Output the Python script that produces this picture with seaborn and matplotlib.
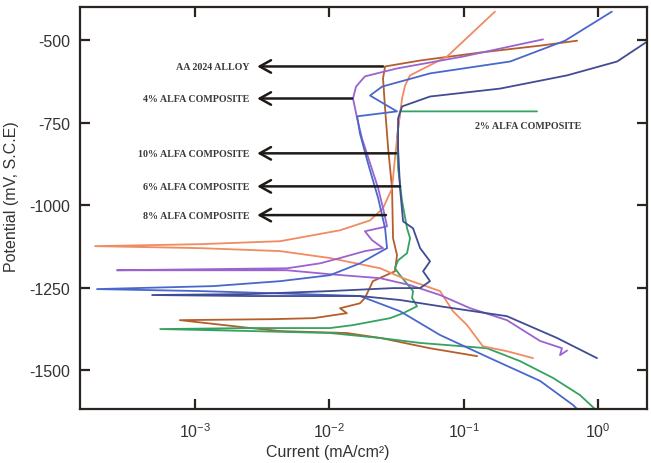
import numpy as np
import pandas as pd
import matplotlib
matplotlib.use("Agg")
import matplotlib.pyplot as plt
import seaborn as sns
from matplotlib.ticker import NullLocator, FixedLocator

# polarisation curves: current (mA/cm2), potential (mV vs SCE)
aa2024_i = [0.126, 0.056, 0.024, 0.0135, 0.0043, 0.0026, 0.00077, 0.0038, 0.0076, 0.0135, 0.012,
            0.0169, 0.0184, 0.0211, 0.0308, 0.0319, 0.0298, 0.0293, 0.0274, 0.026, 0.0251, 0.026,
            0.0474, 0.132, 0.371, 0.70]
aa2024_e = [-1457, -1433, -1402, -1387, -1381, -1372, -1348, -1345, -1342, -1327, -1312,
            -1297, -1281, -1230, -1200, -1151, -1100, -949, -828, -707, -616, -580,
            -562, -538, -517, -502]

alfa2_i = [0.968, 0.736, 0.463, 0.263, 0.149, 0.0474, 0.0239, 0.0101, 0.00257, 0.00055, 0.00257,
           0.0101, 0.0150, 0.0283, 0.0354, 0.0450, 0.0413, 0.0420, 0.0386, 0.0336, 0.0308, 0.0325,
           0.0379, 0.0399, 0.0379, 0.0348, 0.0325, 0.0319, 0.0336, 0.352]
alfa2_e = [-1620, -1575, -1523, -1472, -1433, -1417, -1402, -1387, -1381, -1375, -1372,
           -1372, -1363, -1342, -1327, -1306, -1281, -1260, -1242, -1212, -1191, -1167,
           -1145, -1100, -1070, -988, -888, -798, -716, -716]

alfa6_i = [0.329, 0.210, 0.139, 0.106, 0.0833, 0.0667, 0.0354, 0.0239, 0.0101, 0.0043, 0.00109,
           0.00018, 0.00109, 0.0043, 0.012, 0.0201, 0.0251, 0.0293, 0.0308, 0.0325, 0.0348,
           0.0366, 0.0399, 0.0752, 0.171]
alfa6_e = [-1463, -1442, -1427, -1363, -1321, -1260, -1221, -1191, -1160, -1139, -1130,
           -1124, -1118, -1109, -1076, -1046, -1009, -949, -858, -768, -677,
           -638, -607, -550, -414]

alfa4_i = [0.589, 0.522, 0.540, 0.371, 0.210, 0.112, 0.0667, 0.0399, 0.0239, 0.0101, 0.00484,
           0.00109, 0.000262, 0.00109, 0.00484, 0.00853, 0.012, 0.0184, 0.0251, 0.0208, 0.0184,
           0.0269, 0.0251, 0.0231, 0.0201, 0.0175, 0.0161, 0.0150, 0.0158, 0.0184, 0.0319,
           0.099, 0.390]
alfa4_e = [-1440, -1454, -1433, -1411, -1348, -1312, -1272, -1242, -1221, -1209, -1197,
           -1197, -1197, -1194, -1191, -1176, -1160, -1139, -1130, -1106, -1079,
           -1064, -1009, -949, -873, -798, -737, -677, -641, -610, -586,
           -550, -498]

alfa8_i = [0.711, 0.653, 0.371, 0.157, 0.0667, 0.0336, 0.0169, 0.00605, 0.00109, 0.000186, 0.00136,
           0.0043, 0.0101, 0.0169, 0.0269, 0.026, 0.0231, 0.0194, 0.0169, 0.0161, 0.0319,
           0.026, 0.0201, 0.0247, 0.0562, 0.222, 0.569, 1.27]
alfa8_e = [-1620, -1605, -1532, -1463, -1393, -1321, -1275, -1269, -1260, -1254, -1245,
           -1230, -1212, -1176, -1130, -1070, -979, -873, -783, -731, -716,
           -695, -668, -641, -601, -565, -502, -414]

alfa10_i = [0.984, 0.496, 0.210, 0.0667, 0.0336, 0.0169, 0.0101, 0.00257, 0.000479, 0.00257, 0.0101,
            0.0298, 0.0474, 0.0562, 0.0499, 0.0562, 0.0474, 0.042, 0.0354, 0.0336, 0.0325, 0.0325,
            0.0348, 0.0562, 0.187, 0.589, 1.39, 2.32, 3.44]
alfa10_e = [-1463, -1402, -1336, -1306, -1287, -1275, -1275, -1275, -1272, -1269, -1260,
            -1251, -1251, -1230, -1200, -1170, -1130, -1070, -1049, -949, -828, -737,
            -701, -671, -647, -607, -565, -505, -465]

samples = ["AA 2024 ALLOY", "2% ALFA COMPOSITE", "6% ALFA COMPOSITE",
           "4% ALFA COMPOSITE", "8% ALFA COMPOSITE", "10% ALFA COMPOSITE"]
colors = ["#b55e2c", "#35a262", "#f28a62", "#9a63cf", "#4a68cc", "#404c94"]

# labels with arrows: (text, potential, arrow tail current)
label_text = ["AA 2024 ALLOY", "4% ALFA COMPOSITE", "10% ALFA COMPOSITE",
              "6% ALFA COMPOSITE", "8% ALFA COMPOSITE"]
label_e = [-580, -677, -843, -943, -1030]
label_tail_i = [0.0251, 0.0148, 0.0314, 0.0336, 0.0264]

curves = [(aa2024_i, aa2024_e), (alfa2_i, alfa2_e), (alfa6_i, alfa6_e),
          (alfa4_i, alfa4_e), (alfa8_i, alfa8_e), (alfa10_i, alfa10_e)]
frames = []
for name, (i, e) in zip(samples, curves):
    frames.append(pd.DataFrame({"current": i, "potential": e, "sample": name}))
df = pd.concat(frames, ignore_index=True)

sns.set_theme(style="ticks")
plt.rcParams["font.family"] = ["Liberation Sans", "DejaVu Sans"]
plt.rcParams["axes.unicode_minus"] = False

fig = plt.figure(figsize=(6.51, 4.64), dpi=100)
ax = fig.add_axes([80 / 651, 1 - 410 / 464, 567 / 651, 402 / 464])
ax.set_xscale("log")

sns.lineplot(data=df, x="current", y="potential", hue="sample", palette=dict(zip(samples, colors)),
             sort=False, estimator=None, legend=False, lw=1.3, ax=ax)

ax.set_xlim(1.39e-4, 2.32)
ax.set_ylim(-1617, -400)
ax.xaxis.set_major_locator(FixedLocator([1e-3, 1e-2, 1e-1, 1e0]))
ax.xaxis.set_minor_locator(NullLocator())
ax.set_yticks([-500, -750, -1000, -1250, -1500])

for s in ax.spines.values():
    s.set_linewidth(1.6)
    s.set_color("#2a2320")
ax.tick_params(direction="in", length=7, width=1.6, color="#2a2320",
               top=True, right=True, labelsize=11.5, labelcolor="#333333")
ax.tick_params(axis="x", pad=9)
ax.tick_params(axis="y", pad=7)

ax.set_xlabel("Current (mA/cm²)", fontsize=11.5, color="#333333")
ax.set_ylabel("Potential (mV, S.C.E)", fontsize=11.5, color="#333333")
ax.xaxis.set_label_coords(0.437, -0.088)
ax.yaxis.set_label_coords(-0.108, 0.53)

for txt, e, tail in zip(label_text, label_e, label_tail_i):
    ax.annotate("", xy=(2.9e-3, e), xytext=(tail, e),
                arrowprops=dict(arrowstyle="->,head_length=0.45,head_width=0.25",
                                lw=1.8, color="#1e1a18", mutation_scale=18,
                                shrinkA=0, shrinkB=0))
    ax.text(2.55e-3, e, txt, ha="right", va="center", fontsize=7.2,
            family="Liberation Serif", weight="bold", color="#3a3a3a")

ax.text(0.122, -758, "2% ALFA COMPOSITE", ha="left", va="center", fontsize=7.2,
        family="Liberation Serif", weight="bold", color="#3a3a3a")

fig.savefig("out.png", dpi=100)
